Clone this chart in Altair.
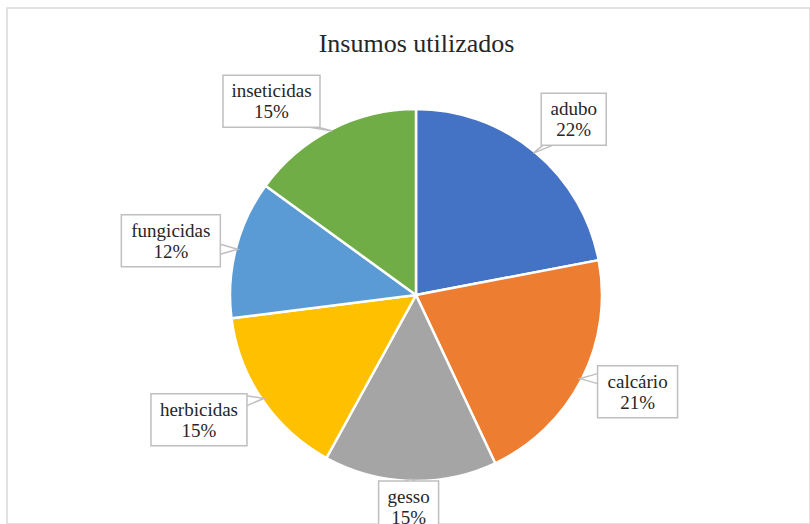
import math
import altair as alt
import pandas as pd

# ---- data ----
categories = ["adubo", "calcário", "gesso", "herbicidas", "fungicidas", "inseticidas"]
values = [22, 21, 15, 15, 12, 15]
colors = ["#4472C4", "#ED7D31", "#A5A5A5", "#FFC000", "#5B9BD5", "#70AD47"]
title_text = "Insumos utilizados"

# ---- layout (not data) ----
VIEW_W, VIEW_H = 803, 516
CX_PX, CY_PX = 409, 287          # pie centre inside the view
R_PX = 186                        # pie radius in pixels
label_angle = [41.9, 113.6, 182.0, 240.1, 282.5, 323.3]   # degrees, clockwise from top
label_radius = [1.27, 1.30, 1.14, 1.346, 1.35, 1.30]     # in pie radii
box_w = [65, 80, 60, 96, 99, 97]                          # px
BOX_H = 52

x_dom = [-CX_PX / R_PX, (VIEW_W - CX_PX) / R_PX]
y_dom = [-(VIEW_H - CY_PX) / R_PX, CY_PX / R_PX]

total = sum(values)
rows, ptr = [], []
cum = 0.0
for i, (c, v) in enumerate(zip(categories, values)):
    mid = (cum + v / 2) / total * 2 * math.pi
    cum += v
    a = math.radians(label_angle[i])
    lx = label_radius[i] * math.sin(a)
    ly = label_radius[i] * math.cos(a)
    hw = box_w[i] / 2 / R_PX
    hh = BOX_H / 2 / R_PX
    x0, x1, y0, y1 = lx - hw, lx + hw, ly - hh, ly + hh
    tx, ty = 0.99 * math.sin(mid), 0.99 * math.cos(mid)
    s = 5 / R_PX
    if ty < y0 or ty > y1:
        by = y0 if ty < y0 else y1
        bx = min(max(tx, x0 + s + 0.01), x1 - s - 0.01)
        b1, b2 = (bx - s, by), (bx + s, by)
    else:
        bx = x0 if tx < x0 else x1
        byc = min(max(ty, y0 + s + 0.01), y1 - s - 0.01)
        b1, b2 = (bx, byc - s), (bx, byc + s)
    for k, (px, py) in enumerate([b1, (tx, ty), b2]):
        ptr.append({"cat": c, "k": k, "px": px, "py": py})
    rows.append({"idx": i, "cat": c, "value": v, "label": f"{c}\n{v}%",
                 "lx": lx, "ly": ly, "x0": x0, "x1": x1, "y0": y0, "y1": y1})

df = pd.DataFrame(rows)
dp = pd.DataFrame(ptr)

xs = alt.Scale(domain=x_dom, nice=False, zero=False)
ys = alt.Scale(domain=y_dom, nice=False, zero=False)

base = alt.Chart(df)

pie = base.mark_arc(radius=R_PX, stroke="white", strokeWidth=2.5).encode(
    x=alt.X(datum=0, scale=xs, axis=None),
    y=alt.Y(datum=0, scale=ys, axis=None),
    theta=alt.Theta("value:Q", stack=True),
    order=alt.Order("idx:Q"),
    color=alt.Color("cat:N", scale=alt.Scale(domain=categories, range=colors), legend=None),
)

pointers = alt.Chart(dp).mark_line(color="#BFBFBF", strokeWidth=1.5).encode(
    x=alt.X("px:Q", scale=xs, axis=None),
    y=alt.Y("py:Q", scale=ys, axis=None),
    detail="cat:N",
    order="k:Q",
)

boxes = base.mark_rect(fill="white", stroke="#BFBFBF", strokeWidth=1.5).encode(
    x=alt.X("x0:Q", scale=xs, axis=None), x2="x1:Q",
    y=alt.Y("y0:Q", scale=ys, axis=None), y2="y1:Q",
)

labels = base.mark_text(lineBreak="\n", font="Liberation Serif", fontSize=19,
                        lineHeight=21, align="center", baseline="middle", dy=-10,
                        color="#262626").encode(
    x=alt.X("lx:Q", scale=xs, axis=None),
    y=alt.Y("ly:Q", scale=ys, axis=None),
    text="label:N",
)

chart = alt.layer(pie, pointers, boxes, labels).properties(
    width=VIEW_W, height=VIEW_H,
    title=alt.Title(title_text, font="Liberation Serif", fontSize=26, fontWeight="normal",
                    color="#262626", anchor="middle", frame="group", offset=0,
                    dy=70, dx=8, baseline="alphabetic"),
    padding={"left": 7, "top": 8, "right": 0, "bottom": 0},
    autosize=alt.AutoSizeParams(type="none"),
).configure_view(stroke="#D9D9D9", strokeWidth=1.5)

chart.save("out.html", embed_options={"renderer": "svg", "actions": False})
